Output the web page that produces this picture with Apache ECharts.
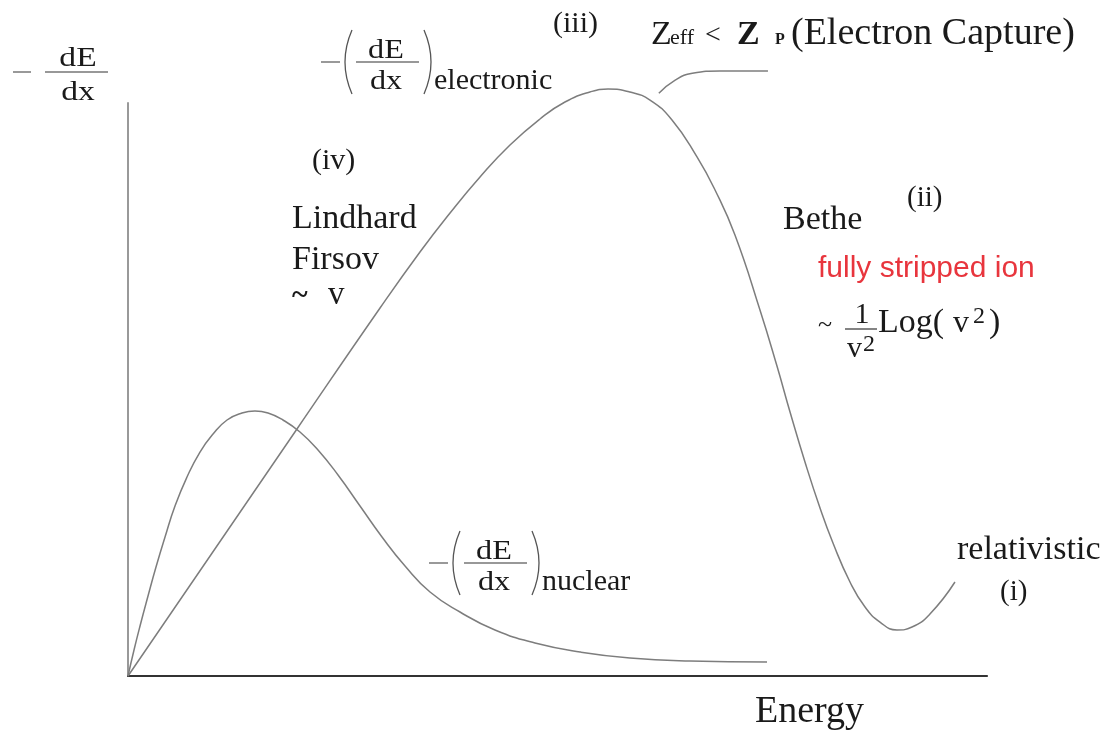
<!DOCTYPE html>
<html>
<head>
<meta charset="utf-8">
<script src="https://cdn.jsdelivr.net/npm/echarts@6/dist/echarts.min.js"></script>
<style>
  html, body { margin: 0; padding: 0; background: #fff; }
  #chart { width: 1113px; height: 734px; }
</style>
</head>
<body>
<div id="chart"></div>
<script>
// 阻止本领曲线 - 电子 / 核 阻止本领 vs 能量 (arbitrary units)
const energyElectronic = [0, 19.67, 29.34, 33.99, 37.49, 40.98, 44.47, 47.96, 50.87, 53.78, 55.88, 58.44, 60.77, 63.33, 66.24, 68.34, 70.66, 73.57, 75.55, 77.07, 78.81, 80.56, 82.07, 84.05, 85.8, 87.54, 89.52, 91.27, 93.36, 96.27]
const stopElectronic   = [0, 43.11, 64.22, 74.0, 80.8, 87.09, 92.67, 97.21, 100.17, 101.92, 102.44, 101.92, 100.52, 97.03, 90.58, 84.82, 76.96, 63.87, 54.1, 46.07, 37.35, 29.32, 23.21, 16.4, 12.04, 9.42, 8.03, 8.55, 10.82, 16.4]

const energyNuclear = [0, 0.7, 1.4, 2.33, 3.26, 4.31, 5.47, 6.87, 8.38, 9.9, 11.53, 13.27, 14.78, 16.3, 18.04, 20.02, 22.12, 24.45, 27.01, 29.57, 32.25, 35.16, 38.65, 42.72, 47.38, 52.62, 58.44, 65.42, 74.39]
const stopNuclear   = [0, 4.54, 8.73, 13.96, 19.02, 24.26, 29.67, 34.73, 39.09, 42.23, 44.68, 45.9, 46.25, 45.9, 44.68, 42.58, 39.44, 35.08, 29.67, 24.26, 19.2, 14.66, 11.17, 8.03, 5.76, 4.19, 3.14, 2.62, 2.44]

// Zeff < Zp 引出线
const energyCapture = [61.8, 63.7, 65.7, 68.9, 74.5]
const stopCapture   = [101.7, 104.0, 105.2, 105.6, 105.6]

const pair = (xs, ys) => xs.map((x, i) => [x, ys[i]])

const SERIF = '"Liberation Serif", "Times New Roman", serif'
const INK = '#1a1a1a'

// text helper, y = baseline
const t = (x, baseline, s, fs, opt) => {
    opt = opt || {}
    return {
        type: 'text',
        x: x,
        y: baseline - 0.3 * fs,
        scaleX: opt.sx || 1,
        style: {
            text: s,
            font: (opt.bold ? 'bold ' : '') + fs + 'px ' + (opt.family || SERIF),
            fill: opt.fill || INK,
            align: opt.align || 'left',
            verticalAlign: 'middle'
        },
        silent: true
    }
}
const bar = (x1, x2, y, color) => ({
    type: 'line',
    shape: { x1: x1, y1: y, x2: x2, y2: y },
    style: { stroke: color || '#333', lineWidth: 1.2 },
    silent: true
})
const paren = (x, y1, y2, bulge) => ({
    type: 'bezierCurve',
    shape: { x1: x, y1: y1, x2: x, y2: y2, cpx1: x + bulge, cpy1: (y1 + y2) / 2 },
    style: { stroke: '#555', lineWidth: 1.3, fill: null },
    silent: true
})

// -(dE/dx)_sub block
const dedx = (x0, top, sub) => {
    const mid = top + 32
    return [
        bar(x0 - 7, x0 + 12, mid, '#555'),
        paren(x0 + 24, top, top + 64, -14),
        t(x0 + 58, mid - 3, 'dE', 28, { align: 'center', sx: 1.15 }),
        bar(x0 + 28, x0 + 91, mid),
        t(x0 + 58, mid + 28, 'dx', 28, { align: 'center', sx: 1.15 }),
        paren(x0 + 96, top, top + 64, 14),
        t(x0 + 106, mid + 28, sub, 30)
    ]
}

const graphics = [
    // y axis title
    bar(13, 31, 72, '#555'),
    t(78, 67, 'dE', 28, { align: 'center', sx: 1.2 }),
    bar(45, 108, 72),
    t(78, 101, 'dx', 28, { align: 'center', sx: 1.2 }),

    ...dedx(328, 30, 'electronic'),
    ...dedx(436, 531, 'nuclear'),

    t(553, 33, '(iii)', 30),
    t(651, 45, 'Z', 34),
    t(670, 45, 'eff', 22),
    t(705, 44, '<', 28),
    t(737, 45, 'Z', 34, { bold: true }),
    t(775, 45, 'P', 16, { bold: true }),
    t(791, 45, '(Electron Capture)', 38),

    t(312, 170, '(iv)', 30),
    t(292, 229, 'Lindhard', 34),
    t(292, 270, 'Firsov', 34),
    t(292, 305, '~', 30, { bold: true }),
    t(328, 305, 'v', 33),

    t(907, 207, '(ii)', 29),
    t(783, 230, 'Bethe', 34),
    t(818, 278, 'fully stripped ion', 30, { family: '"Liberation Sans", Arial, sans-serif', fill: '#e8353d' }),
    t(818, 333, '~', 26),
    t(862, 324, '1', 30, { align: 'center' }),
    bar(845, 877, 329),
    t(847, 358, 'v', 30),
    t(863, 352, '2', 24),
    t(878, 333, 'Log(', 34),
    t(953, 333, 'v', 32),
    t(973, 324, '2', 24),
    t(989, 333, ')', 34),

    t(957, 560, 'relativistic', 34),
    t(1000, 601, '(i)', 29),
    t(755, 723, 'Energy', 38)
]

const curveStyle = { color: '#7d7d7d', width: 1.5 }

const chart = echarts.init(document.getElementById('chart'))
chart.setOption({
    animation: false,
    backgroundColor: '#fff',
    grid: { left: 128, right: 126, top: 103, bottom: 58 },
    xAxis: {
        type: 'value',
        min: 0,
        max: 100,
        axisLine: { show: true, onZero: false, lineStyle: { color: '#333', width: 2.2 } },
        axisTick: { show: false },
        axisLabel: { show: false },
        splitLine: { show: false }
    },
    yAxis: {
        type: 'value',
        min: 0,
        max: 100,
        axisLine: { show: true, onZero: false, lineStyle: { color: '#999', width: 2 } },
        axisTick: { show: false },
        axisLabel: { show: false },
        splitLine: { show: false }
    },
    series: [
        {
            name: 'electronic',
            type: 'line',
            data: pair(energyElectronic, stopElectronic),
            smooth: 0.5,
            symbol: 'none',
            clip: false,
            lineStyle: curveStyle
        },
        {
            name: 'nuclear',
            type: 'line',
            data: pair(energyNuclear, stopNuclear),
            smooth: 0.5,
            symbol: 'none',
            clip: false,
            lineStyle: curveStyle
        },
        {
            name: 'capture',
            type: 'line',
            data: pair(energyCapture, stopCapture),
            smooth: 0.5,
            symbol: 'none',
            clip: false,
            lineStyle: curveStyle
        }
    ],
    graphic: graphics
})
</script>
</body>
</html>
